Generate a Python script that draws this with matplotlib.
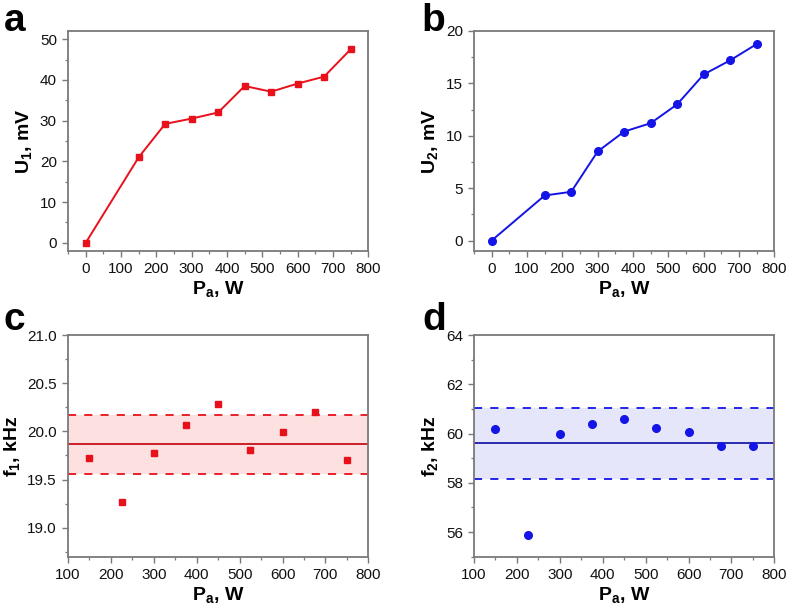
import matplotlib
matplotlib.use("Agg")
import matplotlib.pyplot as plt
from matplotlib.ticker import MultipleLocator

plt.rcParams['font.family'] = ['Liberation Sans', 'DejaVu Sans']
plt.rcParams['mathtext.fontset'] = 'custom'
plt.rcParams['mathtext.rm'] = 'Liberation Sans'
plt.rcParams['mathtext.bf'] = 'Liberation Sans:bold'

# ---- data ----
power_ab = [0, 150, 225, 300, 375, 450, 525, 600, 675, 750]
u1 = [0.0, 21.0, 29.2, 30.5, 32.0, 38.5, 37.1, 39.1, 40.8, 47.5]
u2 = [0.0, 4.3, 4.65, 8.5, 10.4, 11.2, 13.0, 15.85, 17.2, 18.75]

power_cd = [150, 225, 300, 375, 450, 525, 600, 675, 750]
f1 = [19.72, 19.27, 19.78, 20.07, 20.28, 19.81, 19.99, 20.20, 19.70]
f2 = [60.2, 55.9, 59.97, 60.38, 60.6, 60.22, 60.07, 59.48, 59.48]

f1_mean, f1_low, f1_high = 19.865, 19.56, 20.17
f2_mean, f2_low, f2_high = 59.6, 58.15, 61.02

RED = '#e8101a'
RED_DARK = '#c81018'
BLUE = '#1414e6'
BLUE_DARK = '#1c1caa'
SPINE = '#7a7a7a'

fig = plt.figure(figsize=(7.89, 6.10), dpi=100)

W, H = 0.3806, 0.3607
ax_a = fig.add_axes([0.0862, 0.5885, W, H])
ax_b = fig.add_axes([0.6008, 0.5885, W, H])
ax_c = fig.add_axes([0.0862, 0.0874, W, 0.3634])
ax_d = fig.add_axes([0.6008, 0.0874, W, 0.3634])


def style(ax, xmaj, xmin, ymaj, ymin):
    for s in ax.spines.values():
        s.set_color(SPINE)
        s.set_linewidth(1.3)
    ax.xaxis.set_major_locator(MultipleLocator(xmaj))
    ax.xaxis.set_minor_locator(MultipleLocator(xmin))
    ax.yaxis.set_major_locator(MultipleLocator(ymaj))
    ax.yaxis.set_minor_locator(MultipleLocator(ymin))
    ax.tick_params(which='both', direction='out', color=SPINE, top=False, right=False,
                   labelsize=11, labelcolor='#111111')
    ax.tick_params(which='major', length=4.5, width=1.0)
    ax.tick_params(which='minor', length=2.5, width=0.9)
    ax.set_xlabel(r'$\mathbf{P_a}$, W', fontsize=14, fontweight='bold', labelpad=2)


# panel a
ax_a.plot(power_ab, u1, color=RED, lw=1.4, marker='s', ms=5, mfc=RED, mec=RED)
ax_a.set_xlim(-50, 800)
ax_a.set_ylim(-2, 52)
style(ax_a, 100, 50, 10, 5)
ax_a.set_ylabel(r'$\mathbf{U_1}$, mV', fontsize=14, fontweight='bold', labelpad=4)

# panel b
ax_b.plot(power_ab, u2, color=BLUE, lw=1.4, marker='o', ms=5.5, mfc=BLUE, mec=BLUE)
ax_b.set_xlim(-50, 800)
ax_b.set_ylim(-1, 20)
style(ax_b, 100, 50, 5, 2.5)
ax_b.set_ylabel(r'$\mathbf{U_2}$, mV', fontsize=14, fontweight='bold', labelpad=4)

# panel c
ax_c.axhspan(f1_low, f1_high, color='#fde0e0', lw=0, zorder=0)
ax_c.axhline(f1_mean, color=RED_DARK, lw=1.3, zorder=1)
ax_c.axhline(f1_high, color=RED, lw=1.3, ls=(0, (4.5, 4.5)), zorder=1)
ax_c.axhline(f1_low, color=RED, lw=1.3, ls=(0, (4.5, 4.5)), zorder=1)
ax_c.plot(power_cd, f1, ls='none', marker='s', ms=5, mfc=RED, mec=RED, zorder=3)
ax_c.set_xlim(100, 800)
ax_c.set_ylim(18.7, 21.0)
style(ax_c, 100, 50, 0.5, 0.25)
ax_c.yaxis.set_major_formatter(matplotlib.ticker.FormatStrFormatter('%.1f'))
ax_c.set_ylabel(r'$\mathbf{f_1}$, kHz', fontsize=14, fontweight='bold', labelpad=4)

# panel d
ax_d.axhspan(f2_low, f2_high, color='#e6e6fa', lw=0, zorder=0)
ax_d.axhline(f2_mean, color=BLUE_DARK, lw=1.3, zorder=1)
ax_d.axhline(f2_high, color=BLUE, lw=1.3, ls=(0, (4.5, 4.5)), zorder=1)
ax_d.axhline(f2_low, color=BLUE, lw=1.3, ls=(0, (4.5, 4.5)), zorder=1)
ax_d.plot(power_cd, f2, ls='none', marker='o', ms=5.5, mfc=BLUE, mec=BLUE, zorder=3)
ax_d.set_xlim(100, 800)
ax_d.set_ylim(55, 64)
style(ax_d, 100, 50, 2, 1)
ax_d.set_ylabel(r'$\mathbf{f_2}$, kHz', fontsize=14, fontweight='bold', labelpad=4)

# panel letters
for x, y, t in [(0.005, 0.995, 'a'), (0.534, 0.995, 'b'),
                (0.005, 0.505, 'c'), (0.535, 0.505, 'd')]:
    fig.text(x, y, t, fontsize=28, fontweight='bold', va='top', ha='left')

fig.savefig('out.png', dpi=100)
